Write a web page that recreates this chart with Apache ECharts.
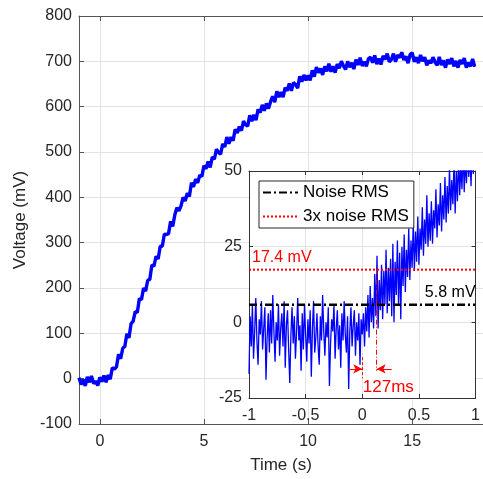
<!DOCTYPE html>
<html><head><meta charset="utf-8">
<script src="https://cdn.jsdelivr.net/npm/echarts@6/dist/echarts.min.js"></script>
<style>html,body{margin:0;padding:0;background:#fff}#c{width:483px;height:479px}</style>
</head><body><div id="c"></div>
<script>
// ---- main trace: time (s) and voltage (mV) ----
const mainTime = [
-1,-0.9,-0.8,-0.7,-0.6,-0.5,-0.4,-0.3,-0.2,-0.1,
0,0.1,0.2,0.3,0.4,0.5,0.6,0.7,0.8,0.9,
1,1.1,1.2,1.3,1.4,1.5,1.6,1.7,1.8,1.9,
2,2.1,2.2,2.3,2.4,2.5,2.6,2.7,2.8,2.9,
3,3.1,3.2,3.3,3.4,3.5,3.6,3.7,3.8,3.9,
4,4.1,4.2,4.3,4.4,4.5,4.6,4.7,4.8,4.9,
5,5.1,5.2,5.3,5.4,5.5,5.6,5.7,5.8,5.9,
6,6.1,6.2,6.3,6.4,6.5,6.6,6.7,6.8,6.9,
7,7.1,7.2,7.3,7.4,7.5,7.6,7.7,7.8,7.9,
8,8.1,8.2,8.3,8.4,8.5,8.6,8.7,8.8,8.9,
9,9.1,9.2,9.3,9.4,9.5,9.6,9.7,9.8,9.9,
10,10.1,10.2,10.3,10.4,10.5,10.6,10.7,10.8,10.9,
11,11.1,11.2,11.3,11.4,11.5,11.6,11.7,11.8,11.9,
12,12.1,12.2,12.3,12.4,12.5,12.6,12.7,12.8,12.9,
13,13.1,13.2,13.3,13.4,13.5,13.6,13.7,13.8,13.9,
14,14.1,14.2,14.3,14.4,14.5,14.6,14.7,14.8,14.9,
15,15.1,15.2,15.3,15.4,15.5,15.6,15.7,15.8,15.9,
16,16.1,16.2,16.3,16.4,16.5,16.6,16.7,16.8,16.9,
17,17.1,17.2,17.3,17.4,17.5,17.6,17.7,17.8,17.9,
18];
const mainVoltage = [
2,-13,-2,-16,4,-8,6,-11,-5,-15,
3,-7,7,-8,8,-1,24,21,26,54,
44,67,71,99,90,121,127,148,146,177,
174,200,193,217,219,251,248,270,264,292,
292,319,318,320,347,336,361,377,370,381,
400,392,409,402,432,423,440,432,449,446,
470,463,479,466,489,484,506,499,495,518,
511,533,518,533,525,550,542,556,547,568,
560,557,581,568,582,570,594,587,604,591,
607,596,611,623,610,634,621,632,621,642,
635,651,635,653,649,641,667,655,670,658,
669,658,680,666,687,675,684,670,689,678,
695,677,689,675,694,685,700,690,682,700,
687,697,683,704,692,708,690,699,689,706,
709,697,713,694,706,693,712,704,717,699,
704,717,699,714,708,720,703,711,696,715,
719,699,709,696,714,700,709,691,702,696,
709,698,691,710,692,702,686,704,694,707,
689,701,686,703,694,707,686,697,689,705,
688];
// ---- inset: zoom around the onset ----
const insetTime = [
-1,-0.99,-0.98,-0.97,-0.96,-0.95,-0.94,-0.93,-0.92,-0.91,
-0.9,-0.89,-0.88,-0.87,-0.86,-0.85,-0.84,-0.83,-0.82,-0.81,
-0.8,-0.79,-0.78,-0.77,-0.76,-0.75,-0.74,-0.73,-0.72,-0.71,
-0.7,-0.69,-0.68,-0.67,-0.66,-0.65,-0.64,-0.63,-0.62,-0.61,
-0.6,-0.59,-0.58,-0.57,-0.56,-0.55,-0.54,-0.53,-0.52,-0.51,
-0.5,-0.49,-0.48,-0.47,-0.46,-0.45,-0.44,-0.43,-0.42,-0.41,
-0.4,-0.39,-0.38,-0.37,-0.36,-0.35,-0.34,-0.33,-0.32,-0.31,
-0.3,-0.29,-0.28,-0.27,-0.26,-0.25,-0.24,-0.23,-0.22,-0.21,
-0.2,-0.19,-0.18,-0.17,-0.16,-0.15,-0.14,-0.13,-0.12,-0.11,
-0.1,-0.09,-0.08,-0.07,-0.06,-0.05,-0.04,-0.03,-0.02,-0.01,
0,0.01,0.02,0.03,0.04,0.05,0.06,0.07,0.08,0.09,
0.1,0.11,0.12,0.13,0.14,0.15,0.16,0.17,0.18,0.19,
0.2,0.21,0.22,0.23,0.24,0.25,0.26,0.27,0.28,0.29,
0.3,0.31,0.32,0.33,0.34,0.35,0.36,0.37,0.38,0.39,
0.4,0.41,0.42,0.43,0.44,0.45,0.46,0.47,0.48,0.49,
0.5,0.51,0.52,0.53,0.54,0.55,0.56,0.57,0.58,0.59,
0.6,0.61,0.62,0.63,0.64,0.65,0.66,0.67,0.68,0.69,
0.7,0.71,0.72,0.73,0.74,0.75,0.76,0.77,0.78,0.79,
0.8,0.81,0.82,0.83,0.84,0.85,0.86,0.87,0.88,0.89,
0.9,0.91,0.92,0.93,0.94,0.95,0.96,0.97,0.98,0.99,
1];
const insetVoltage = [
-17,2,-8,6,-12,-3,8,-6,-14,1,
-4,7,-9,-2,5,-19,-5,3,-10,4,
-7,9,-3,-13,0,-6,6,-11,-2,3,
-8,7,-15,-1,4,-9,-20,-4,5,-7,
2,-12,-3,8,-6,-1,-16,3,-9,6,
-4,-13,1,-7,4,-18,-2,7,-10,-5,
3,-8,-14,2,-6,9,-3,-11,0,-5,
5,-21,-7,1,-3,6,-12,-2,4,-9,
-1,-15,3,-6,7,-4,-10,2,-22,-3,
5,-8,-1,4,-11,0,-6,3,-14,1,
-4,3,-8,5,-3,9,-5,12,0,8,
-2,16,2,22,-2,14,4,19,1,17,
6,24,3,18,7,21,2,26,0,20,
9,27,6,23,1,25,12,29,10,24,
15,31,14,27,18,33,17,30,20,35,
19,31,24,38,22,34,26,42,25,36,
27,40,26,37,31,44,28,39,32,46,
30,42,34,48,33,45,36,51,37,47,
39,53,36,50,40,55,42,52,44,57,
43,54,46,58,48,56,45,59,49,60,
55];
// ---- annotation values ----
const legendNames = ['Noise RMS', '3x noise RMS'];
const noiseRms = 5.8;
const noiseRms3 = 17.4;
const rmsLabels = ['5.8 mV', '17.4 mV'];
const rmsLineT = [-1, 1];
const crossTime = 0.127;
const crossLineV = [17.4, -16];
const zeroMarkV = [-11.5, -18.5];
const arrowV = -15.4;
const arrowLeftT = [-0.12, 0];
const arrowRightT = [0.26, 0.127];
const delayText = '127ms';
const delayTextPos = [0.23, -21.6];

const zip = (a, b) => a.map((v, i) => [v, b[i]]);
const FONT = '"Liberation Sans", Arial, Helvetica, sans-serif';
const TXT = '#262626';
const GRIDC = '#e3e3e3';
const AX = '#555555';
const CLEAR = 'rgba(0,0,0,0)';

const chart = echarts.init(document.getElementById('c'), null, {renderer: 'canvas'});
const option = {
  animation: false,
  textStyle: {fontFamily: FONT},
  grid: [
    {left: 79, top: 16, width: 412, height: 412},
    {left: 249, top: 171, width: 227, height: 227, show: true, backgroundColor: '#ffffff', borderWidth: 0, zlevel: 1, z: 0}
  ],
  legend: {
    data: legendNames, zlevel: 1, z: 20, orient: 'vertical', left: 259, top: 181,
    itemWidth: 35, itemHeight: 14, itemGap: 7, padding: [3, 5, 3, 3],
    backgroundColor: '#ffffff', borderColor: '#262626', borderWidth: 1, borderRadius: 0,
    itemStyle: {opacity: 0, color: CLEAR, borderWidth: 0},
    textStyle: {fontSize: 17, color: '#000', fontFamily: FONT}, selectedMode: false
  },
  xAxis: [
    {gridIndex: 0, type: 'value', min: -1, max: 18.4, splitNumber: 4, minInterval: 5, maxInterval: 5, position: 'bottom',
     axisLine: {onZero: false, lineStyle: {color: AX}}, axisTick: {inside: true, length: 5, lineStyle: {color: AX}},
     axisLabel: {color: TXT, fontSize: 16, margin: 10, showMinLabel: false, showMaxLabel: false},
     splitLine: {show: true, lineStyle: {color: GRIDC}},
     name: 'Time (s)', nameLocation: 'middle', nameGap: 33, nameTextStyle: {color: TXT, fontSize: 17}},
    {gridIndex: 0, type: 'value', min: -1, max: 18.4, splitNumber: 4, minInterval: 5, maxInterval: 5, position: 'top',
     axisLine: {show: true, onZero: false, lineStyle: {color: AX}}, axisTick: {show: true, inside: true, length: 5, lineStyle: {color: AX}},
     axisLabel: {show: false}, splitLine: {show: false}},
    {gridIndex: 1, type: 'value', min: -1, max: 1, interval: 0.5, position: 'bottom', zlevel: 1, z: 1,
     axisLine: {onZero: false, lineStyle: {color: '#333'}}, axisTick: {inside: true, length: 4, lineStyle: {color: '#333'}},
     axisLabel: {color: TXT, fontSize: 16, margin: 10},
     splitLine: {show: true, lineStyle: {color: GRIDC}}},
    {gridIndex: 1, type: 'value', min: -1, max: 1, interval: 0.5, position: 'top', zlevel: 1, z: 1,
     axisLine: {show: true, onZero: false, lineStyle: {color: '#333'}}, axisTick: {show: true, inside: true, length: 4, lineStyle: {color: '#333'}},
     axisLabel: {show: false}, splitLine: {show: false}}
  ],
  yAxis: [
    {gridIndex: 0, type: 'value', min: -100, max: 800, interval: 100, position: 'left',
     axisLine: {show: true, onZero: false, lineStyle: {color: AX}}, axisTick: {show: true, inside: true, length: 5, lineStyle: {color: AX}},
     axisLabel: {color: TXT, fontSize: 16, margin: 7},
     splitLine: {show: true, lineStyle: {color: GRIDC}},
     name: 'Voltage (mV)', nameLocation: 'middle', nameGap: 46, nameTextStyle: {color: TXT, fontSize: 17}},
    {gridIndex: 1, type: 'value', min: -25, max: 50, interval: 25, position: 'left', zlevel: 1, z: 1,
     axisLine: {show: true, onZero: false, lineStyle: {color: '#333'}}, axisTick: {show: true, inside: true, length: 4, lineStyle: {color: '#333'}},
     axisLabel: {color: TXT, fontSize: 16, margin: 7},
     splitLine: {show: true, lineStyle: {color: GRIDC}}},
    {gridIndex: 1, type: 'value', min: -25, max: 50, interval: 25, position: 'right', zlevel: 1, z: 1,
     axisLine: {show: true, onZero: false, lineStyle: {color: '#333'}}, axisTick: {show: true, inside: true, length: 4, lineStyle: {color: '#333'}},
     axisLabel: {show: false}, splitLine: {show: false}}
  ],
  series: [
    {name: 'signal', type: 'line', xAxisIndex: 0, yAxisIndex: 0, data: zip(mainTime, mainVoltage),
     symbol: 'none', lineStyle: {color: '#0000ff', width: 3.4}, itemStyle: {color: '#0000ff'}, z: 3},
    {name: 'inset', type: 'line', xAxisIndex: 2, yAxisIndex: 1, zlevel: 1, z: 3, data: zip(insetTime, insetVoltage),
     symbol: 'none', clip: true, lineStyle: {color: '#0000ff', width: 1.3}, itemStyle: {color: '#0000ff'}},
    {name: legendNames[0], type: 'line', xAxisIndex: 2, yAxisIndex: 1, zlevel: 1, z: 5,
     data: zip(rmsLineT, [noiseRms, noiseRms]), symbol: 'none',
     lineStyle: {color: '#000000', width: 2.5, type: [8, 3, 2, 3]}, itemStyle: {color: '#000000'},
     markPoint: {zlevel: 1, z: 20, symbol: 'circle', symbolSize: 1, silent: true, itemStyle: {color: CLEAR},
       label: {show: true, position: 'top', align: 'right', distance: 4, color: '#000', fontSize: 16, formatter: rmsLabels[0]},
       data: [{coord: [rmsLineT[1], noiseRms]}]}},
    {name: legendNames[1], type: 'line', xAxisIndex: 2, yAxisIndex: 1, zlevel: 1, z: 5,
     data: zip(rmsLineT, [noiseRms3, noiseRms3]), symbol: 'none',
     lineStyle: {color: '#ff0000', width: 2, type: [2, 2]}, itemStyle: {color: '#ff0000'},
     markPoint: {zlevel: 1, z: 20, symbol: 'circle', symbolSize: 1, silent: true, itemStyle: {color: CLEAR},
       label: {show: true, position: 'top', align: 'left', distance: 4, offset: [3, 0], color: '#ff0000', fontSize: 16, formatter: rmsLabels[1]},
       data: [{coord: [rmsLineT[0], noiseRms3]}]}},
    {name: 'marks', type: 'line', xAxisIndex: 2, yAxisIndex: 1, zlevel: 1, z: 6, data: [],
     markLine: {zlevel: 1, z: 20, silent: true, symbol: ['none', 'none'], label: {show: false},
       lineStyle: {color: '#ff0000', width: 1, type: [5, 2, 1, 2]},
       data: [
         [{coord: [crossTime, crossLineV[0]]}, {coord: [crossTime, crossLineV[1]]}],
         [{coord: [0, zeroMarkV[0]], lineStyle: {type: [3, 2]}}, {coord: [0, zeroMarkV[1]]}]
       ]}},
    {name: 'arrows', type: 'line', xAxisIndex: 2, yAxisIndex: 1, zlevel: 1, z: 6, data: [],
     markLine: {zlevel: 1, z: 20, silent: true, symbol: ['none', 'arrow'], symbolSize: [7, 9], label: {show: false},
       lineStyle: {color: '#ff0000', width: 1, type: 'solid'},
       data: [
         [{coord: [arrowLeftT[0], arrowV]}, {coord: [arrowLeftT[1], arrowV]}],
         [{coord: [arrowRightT[0], arrowV]}, {coord: [arrowRightT[1], arrowV]}]
       ]},
     markPoint: {zlevel: 1, z: 20, symbol: 'circle', symbolSize: 1, silent: true, itemStyle: {color: CLEAR},
       label: {show: true, position: 'inside', color: '#ff0000', fontSize: 17, formatter: delayText},
       data: [{coord: delayTextPos}]}}
  ]
};
chart.setOption(option);
</script>
</body></html>
